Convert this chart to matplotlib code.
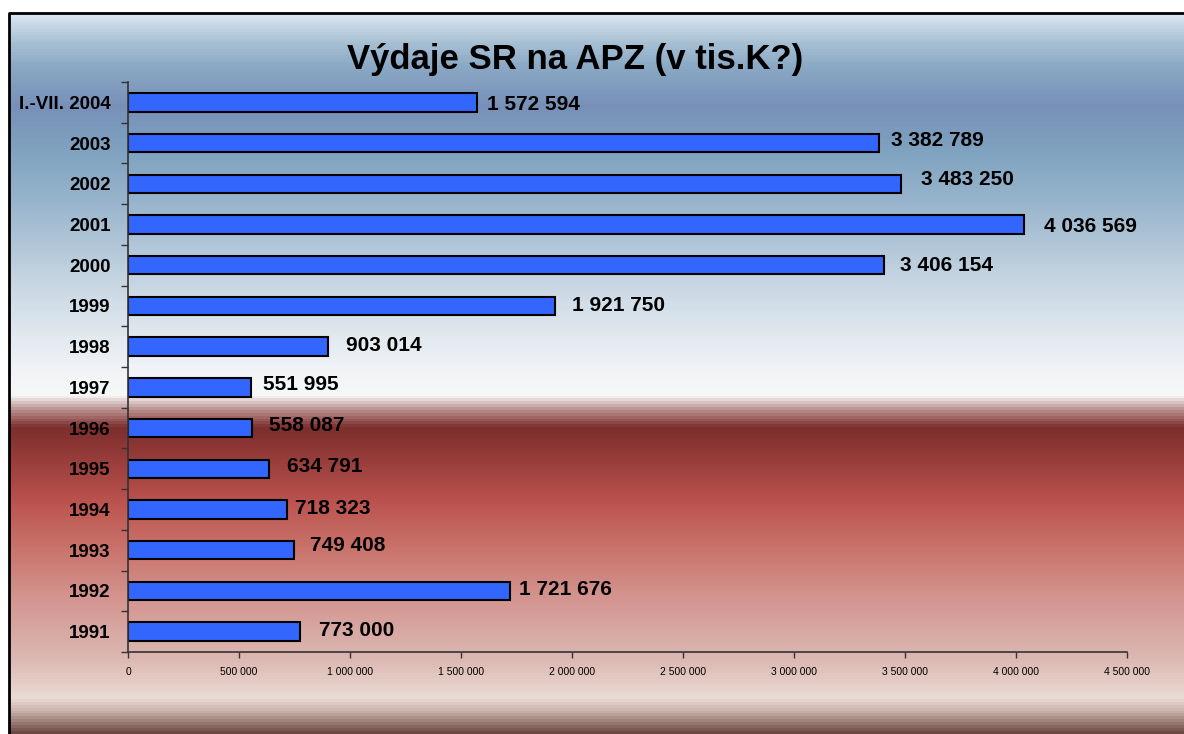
import matplotlib.pyplot as plt
import numpy as np
from matplotlib.colors import LinearSegmentedColormap
from matplotlib.patches import Rectangle

# data
roky = ['1991', '1992', '1993', '1994', '1995', '1996', '1997', '1998',
        '1999', '2000', '2001', '2002', '2003', 'I.-VII. 2004']
vydaje = [773000, 1721676, 749408, 718323, 634791, 558087, 551995, 903014,
          1921750, 3406154, 4036569, 3483250, 3382789, 1572594]
xticky = [0, 500000, 1000000, 1500000, 2000000, 2500000, 3000000,
          3500000, 4000000, 4500000]

# label offsets in pixels (dx, dy)
posun = [(19, 1), (9, 1), (16, 5), (8, 1), (18, 2), (17, 3), (12, 3), (18, 1),
         (17, 0), (16, 0), (20, -2), (20, 4), (12, 3), (10, -2)]

fmt = lambda v: f"{v:,}".replace(",", " ")

plt.rcParams['font.family'] = ['Liberation Sans', 'DejaVu Sans']

fig = plt.figure(figsize=(11.84, 7.34), dpi=100)

# background gradient (y in pixels from the top)
bg = fig.add_axes([0, 0, 1, 1])
stops = [(0, '#d8e6f0'), (13, '#d8e6f0'), (40, '#a9c1d5'), (65, '#8aa9c5'),
         (105, '#7890b8'), (150, '#7fa3c0'), (200, '#98b4cc'), (280, '#c6d5e2'),
         (330, '#dfe7ee'), (370, '#f1f4f7'), (396, '#f7f7f7'), (410, '#b88e8c'),
         (428, '#7d2e2e'), (470, '#a0423f'), (505, '#bd5450'), (545, '#c87068'),
         (600, '#d49590'), (660, '#dcb8b2'), (700, '#ebdbd5'), (715, '#c2aaa3'),
         (734, '#6e4a45')]
cmap = LinearSegmentedColormap.from_list('bg', [(p / 734, c) for p, c in stops])
grad = np.linspace(0, 1, 734).reshape(-1, 1)
bg.imshow(grad, aspect='auto', cmap=cmap, extent=[0, 1184, 734, 0])
bg.add_patch(Rectangle((0, 0), 9, 734, color='white', zorder=2))
bg.add_patch(Rectangle((0, 0), 1184, 13, color='white', zorder=2))
bg.plot([9, 9, 1184], [734, 13, 13], color='black', lw=2, zorder=3)
bg.set_xlim(0, 1184)
bg.set_ylim(734, 0)
bg.axis('off')

fig.text(575 / 1184, 1 - 60 / 734, 'Výdaje SR na APZ (v tis.K?)', ha='center',
         va='center', fontsize=25, fontweight='bold')

ax = fig.add_axes([128 / 1184, 82 / 734, 999 / 1184, 570 / 734])
ax.patch.set_alpha(0)
y = np.arange(len(roky))
ax.barh(y, vydaje, height=0.45, color='#3366ff', edgecolor='black', linewidth=1.5)
for i, v in enumerate(vydaje):
    ax.annotate(fmt(v), (v, i), xytext=posun[i], textcoords='offset pixels',
                ha='left', va='center', fontsize=15, fontweight='bold')

ax.set_xlim(0, 4500000)
ax.set_ylim(-0.5, len(roky) - 0.5)
ax.set_yticks(y)
ax.set_yticklabels(roky, fontsize=13.5, fontweight='bold')
ax.set_yticks(np.arange(-0.5, len(roky)), minor=True)
ax.tick_params(axis='y', which='major', length=0, pad=12.5)
ax.tick_params(axis='y', which='minor', length=5, width=1, color='#333333')
ax.set_xticks(xticky)
ax.set_xticklabels([fmt(t) for t in xticky], fontsize=7.5)
ax.tick_params(axis='x', length=4, width=1, color='#333333', pad=7)
for s in ['top', 'right']:
    ax.spines[s].set_visible(False)
for s in ['left', 'bottom']:
    ax.spines[s].set_color('#333333')
    ax.spines[s].set_linewidth(1.2)

fig.savefig('out.png', dpi=100)
